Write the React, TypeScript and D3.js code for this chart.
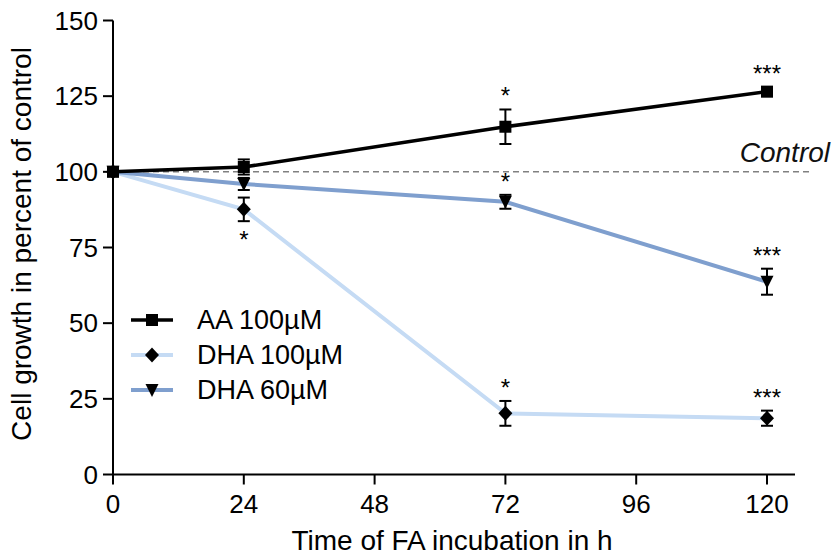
import React from "react";
import * as d3 from "d3";

const times = [0, 24, 72, 120];
const seriesNames = ["AA 100µM", "DHA 100µM", "DHA 60µM"];
const aaValues = [100, 101.6, 114.9, 126.5];
const aaErrors = [0, 2.5, 5.7, 1.5];
const dha100Values = [100, 87.6, 20.2, 18.6];
const dha100Errors = [0, 3.9, 4.1, 2.5];
const dha60Values = [100, 96.0, 90.1, 63.7];
const dha60Errors = [0, 2.0, 2.3, 4.3];
const xTicks = [0, 24, 48, 72, 96, 120];
const yTicks = [0, 25, 50, 75, 100, 125, 150];
// significance: series index, time, label, position (above/below)
const sigSeries = [0, 0, 1, 1, 1, 2, 2];
const sigTimes = [72, 120, 24, 72, 120, 72, 120];
const sigLabels = ["*", "***", "*", "*", "***", "*", "***"];
const sigAbove = [true, true, false, true, true, true, true];
const controlValue = 100;

const W = 835, H = 555;
const FONT = "'Liberation Sans', Arial, sans-serif";

export default function App() {
  const x = d3.scaleLinear().domain([0, 120]).range([113, 767]);
  const y = d3.scaleLinear().domain([0, 150]).range([474.5, 20.5]);
  const colors = ["#000000", "#c5dbf4", "#7f9fce"];
  const widths = [3.5, 4, 4];
  const vals = [aaValues, dha100Values, dha60Values];
  const errs = [aaErrors, dha100Errors, dha60Errors];
  const line = d3.line<number>().x((_, i) => x(times[i])).y((d) => y(d));
  const drawOrder = [1, 2, 0];

  const marker = (s: number, cx: number, cy: number, key: string) => {
    if (s === 0) return <rect key={key} x={cx - 6} y={cy - 6} width={12} height={12} fill="#000" />;
    if (s === 1) return <path key={key} d={`M${cx},${cy - 7.5}L${cx + 7},${cy}L${cx},${cy + 7.5}L${cx - 7},${cy}Z`} fill="#000" />;
    return <path key={key} d={`M${cx - 6.5},${cy - 6}L${cx + 6.5},${cy - 6}L${cx},${cy + 7}Z`} fill="#000" />;
  };

  return (
    <svg width={W} height={H} style={{ position: "absolute", left: 0, top: 0, background: "#fff" }} fontFamily={FONT}>
      {/* control line */}
      <line x1={x(0)} x2={812} y1={y(controlValue)} y2={y(controlValue)} stroke="#808080" strokeWidth={1.5} strokeDasharray="6,4" />
      <text x={830} y={162} textAnchor="end" fontSize={28} fontStyle="italic" fill="#111">Control</text>

      {/* axes */}
      <line x1={113} x2={113} y1={y(150)} y2={y(0)} stroke="#000" strokeWidth={2} />
      <line x1={113} x2={795} y1={y(0)} y2={y(0)} stroke="#000" strokeWidth={2} />
      {yTicks.map((t) => (
        <g key={"y" + t}>
          <line x1={103} x2={113} y1={y(t)} y2={y(t)} stroke="#000" strokeWidth={2} />
          <text x={98} y={y(t)} dy="0.35em" textAnchor="end" fontSize={26} fill="#000">{t}</text>
        </g>
      ))}
      {xTicks.map((t) => (
        <g key={"x" + t}>
          <line x1={x(t)} x2={x(t)} y1={y(0)} y2={y(0) + 10} stroke="#000" strokeWidth={2} />
          <text x={x(t)} y={513} textAnchor="middle" fontSize={26} fill="#000">{t}</text>
        </g>
      ))}
      <text x={452} y={550} textAnchor="middle" fontSize={28} fill="#000">Time of FA incubation in h</text>
      <text transform="translate(31,244) rotate(-90)" textAnchor="middle" fontSize={28} fill="#000">Cell growth in percent of control</text>

      {/* lines */}
      {drawOrder.map((s) => (
        <path key={"l" + s} d={line(vals[s]) || ""} fill="none" stroke={colors[s]} strokeWidth={widths[s]} />
      ))}

      {/* error bars & markers */}
      {drawOrder.map((s) => (
        <g key={"e" + s}>
          {vals[s].map((v, i) => {
            const e = errs[s][i];
            if (!e) return null;
            const cx = x(times[i]);
            return (
              <g key={i} stroke="#000" strokeWidth={2}>
                <line x1={cx} x2={cx} y1={y(v + e)} y2={y(v - e)} />
                <line x1={cx - 6} x2={cx + 6} y1={y(v + e)} y2={y(v + e)} />
                <line x1={cx - 6} x2={cx + 6} y1={y(v - e)} y2={y(v - e)} />
              </g>
            );
          })}
          {vals[s].map((v, i) => marker(s, x(times[i]), y(v), "m" + s + "-" + i))}
        </g>
      ))}

      {/* significance */}
      {sigLabels.map((lab, k) => {
        const s = sigSeries[k];
        const i = times.indexOf(sigTimes[k]);
        const v = vals[s][i], e = errs[s][i];
        const yy = sigAbove[k] ? y(v + e) - 5 : y(v - e) + 27;
        return (
          <text key={"s" + k} x={x(sigTimes[k])} y={yy} textAnchor="middle" fontSize={24} fill="#000">{lab}</text>
        );
      })}

      {/* legend */}
      {seriesNames.map((n, k) => {
        const ly = 320 + k * 35;
        return (
          <g key={"lg" + k}>
            <line x1={131} x2={173} y1={ly} y2={ly} stroke={colors[k]} strokeWidth={widths[k]} />
            {marker(k, 152, ly, "lm" + k)}
            <text x={197} y={ly} dy="0.35em" fontSize={27} fill="#000">{n}</text>
          </g>
        );
      })}
    </svg>
  );
}
